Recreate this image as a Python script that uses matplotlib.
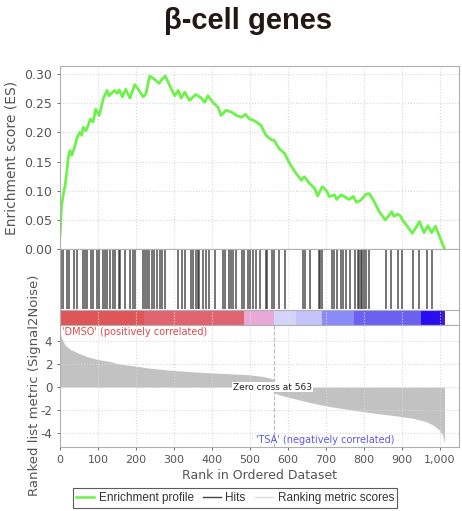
"""GSEA enrichment plot for beta-cell genes (DMSO vs TSA)."""

import matplotlib
matplotlib.use("Agg")
import matplotlib.pyplot as plt
from matplotlib.lines import Line2D
from matplotlib.ticker import FuncFormatter

# running enrichment score
es_rank = [0, 4, 9, 13, 17, 22, 26, 31, 37, 44, 51, 57, 61, 68, 74, 80, 87, 94,
           103, 115, 124, 129, 138, 144, 150, 156, 164, 173, 184, 197, 206, 219,
           226, 236, 249, 261, 267, 277, 289, 302, 311, 319, 328, 341, 357, 372,
           381, 389, 402, 416, 424, 437, 451, 465, 477, 488, 499, 512, 529, 542,
           555, 564, 577, 591, 604, 621, 635, 643, 656, 670, 678, 690, 700, 709,
           722, 728, 740, 748, 761, 772, 780, 792, 805, 814, 827, 840, 856, 864,
           873, 879, 888, 897, 901, 914, 927, 936, 946, 958, 968, 978, 988, 1012]
es_value = [0.022, 0.073, 0.095, 0.107, 0.127, 0.158, 0.169, 0.161, 0.172, 0.189,
            0.200, 0.195, 0.209, 0.203, 0.212, 0.223, 0.218, 0.240, 0.229, 0.260,
            0.272, 0.263, 0.269, 0.272, 0.267, 0.273, 0.261, 0.274, 0.259, 0.282,
            0.274, 0.261, 0.266, 0.297, 0.291, 0.284, 0.290, 0.297, 0.280, 0.263,
            0.272, 0.259, 0.269, 0.255, 0.265, 0.259, 0.252, 0.263, 0.252, 0.243,
            0.229, 0.238, 0.235, 0.229, 0.226, 0.231, 0.223, 0.220, 0.212, 0.195,
            0.188, 0.186, 0.172, 0.164, 0.147, 0.130, 0.118, 0.124, 0.113, 0.104,
            0.091, 0.107, 0.101, 0.090, 0.093, 0.085, 0.093, 0.090, 0.085, 0.090,
            0.080, 0.084, 0.094, 0.095, 0.081, 0.064, 0.050, 0.056, 0.064, 0.056,
            0.060, 0.056, 0.050, 0.039, 0.027, 0.036, 0.047, 0.028, 0.040, 0.028,
            0.039, 0.000]

# positions of gene-set members in the ranked list
hits = [2, 9, 18, 24, 37, 44, 60, 66, 72, 81, 88, 97, 102, 112, 118, 123, 131,
        140, 144, 154, 159, 171, 184, 191, 197, 219, 223, 228, 234, 241, 247,
        254, 262, 268, 276, 310, 322, 328, 345, 350, 357, 363, 367, 376, 383,
        392, 409, 428, 435, 444, 450, 455, 462, 480, 483, 494, 499, 507, 516,
        527, 541, 544, 558, 562, 576, 591, 639, 646, 658, 681, 684, 690, 716,
        722, 728, 740, 744, 753, 763, 777, 783, 787, 792, 796, 801, 805, 812,
        858, 871, 889, 900, 930, 944, 965, 979]

# heat-map band under the hits
band_edges = [0, 220, 483, 564, 622, 690, 773, 951, 1005, 1012]
band_colors = ["#df5659", "#e0646f", "#e8a8d8", "#d4d4fb", "#c4c4fa",
               "#8a8af8", "#6a60f2", "#2a0cf0", "#4a1cc8"]

# ranked list metric (signal-to-noise)
metric_rank = [0, 4, 13, 26, 48, 70, 96, 131, 157, 192, 236, 280, 324, 367, 411,
               455, 499, 534, 562, 564, 586, 621, 665, 709, 753, 796, 840, 884,
               928, 963, 981, 998, 1007, 1011, 1012]
metric_value = [4.9, 4.26, 3.68, 3.30, 2.96, 2.67, 2.43, 2.23, 2.00, 1.86, 1.65,
                1.50, 1.39, 1.30, 1.22, 1.15, 1.07, 0.93, 0.70, -0.52, -0.75,
                -1.04, -1.39, -1.68, -1.91, -2.12, -2.32, -2.49, -2.70, -2.99,
                -3.28, -3.71, -4.14, -4.72, -4.9]
zero_cross = 563

xmax = 1050
grey = "#555555"
frame = "#b0b0b0"

fig = plt.figure(figsize=(4.62, 5.11), dpi=100)
left, width = 60 / 462, 399 / 462
ax_es = fig.add_axes([left, 1 - 249 / 511, width, 183 / 511])
ax_hit = fig.add_axes([left, 1 - 325 / 511, width, 76 / 511])
ax_m = fig.add_axes([left, 1 - 447 / 511, width, 122 / 511])

for ax in (ax_es, ax_hit, ax_m):
    ax.set_xlim(0, xmax)
    for s in ax.spines.values():
        s.set_color(frame)
        s.set_linewidth(0.8)
    ax.tick_params(colors=grey, labelcolor=grey, length=2, width=0.6)

# ES panel
ax_es.plot(es_rank, es_value, color="#6cf24a", lw=2)
ax_es.set_ylim(0, 0.314)
ax_es.set_yticks([0, 0.05, 0.10, 0.15, 0.20, 0.25, 0.30])
ax_es.set_yticklabels([f"{v:.2f}" for v in ax_es.get_yticks()], fontsize=9)
ax_es.set_xticks(range(0, 1001, 100))
ax_es.tick_params(axis="x", labelbottom=False, length=0)
ax_es.grid(True, ls=":", color="#d8d8d8", lw=0.8)
ax_es.set_ylabel("Enrichment score (ES)", fontsize=10, color=grey, labelpad=4)

# hits + colour band
ax_hit.set_ylim(0, 1)
ax_hit.set_yticks([])
ax_hit.set_xticks(range(0, 1001, 100))
ax_hit.tick_params(axis="x", labelbottom=False, length=0)
ax_hit.grid(True, axis="x", ls=":", color="#e0e0e0", lw=0.8)
ax_hit.vlines(hits, 0.21, 0.99, color="#2a2a2a", lw=1.3, alpha=0.7)
for a, b, c in zip(band_edges[:-1], band_edges[1:], band_colors):
    ax_hit.bar(a, 0.2, width=b - a, bottom=0, align="edge", color=c, lw=0)
ax_hit.axhline(0.2, color=frame, lw=0.8)

# ranked metric panel
ax_m.fill_between(metric_rank, metric_value, 0, color="#c2c2c2", lw=0)
ax_m.set_ylim(-5.2, 5.4)
ax_m.set_yticks([4, 2, 0, -2, -4])
ax_m.set_yticklabels(["4", "2", "0", "-2", "-4"], fontsize=8.5)
ax_m.set_xticks(range(0, 1001, 100))
ax_m.xaxis.set_major_formatter(FuncFormatter(lambda v, p: f"{int(v):,}"))
ax_m.tick_params(axis="x", labelsize=8)
ax_m.grid(True, ls=":", color="#d8d8d8", lw=0.8)
ax_m.axvline(zero_cross, color="#bbbbbb", ls="--", lw=0.8)
ax_m.text(559, 0, f"Zero cross at {zero_cross}", fontsize=6.5,
          ha="center", va="center", color="#222222",
          bbox=dict(facecolor="white", edgecolor="none", pad=0.5))
ax_m.text(0.004, 0.985, "'DMSO' (positively correlated)", transform=ax_m.transAxes,
          fontsize=7, color="#e04848", ha="left", va="top")
ax_m.text(698, -4.6, "'TSA' (negatively correlated)", fontsize=7,
          color="#5a5ae6", ha="center", va="center")
ax_m.set_xlabel("Rank in Ordered Dataset", fontsize=9, color=grey, labelpad=3)
fig.text(35 / 462, 1 - 385 / 511, "Ranked list metric (Signal2Noise)",
         rotation=90, fontsize=9.5, color=grey, ha="center", va="center")

fig.suptitle("β-cell genes", x=248 / 462, y=1 - 7 / 511, fontsize=21,
             fontweight="bold", color="#231815", family="Liberation Sans",
             va="top")

handles = [Line2D([], [], color="#6cf24a", lw=1.8),
           Line2D([], [], color="#444444", lw=1.0),
           Line2D([], [], color="#dddddd", lw=1.0)]
leg = fig.legend(handles, ["Enrichment profile", "Hits", "Ranking metric scores"],
                 loc="center", bbox_to_anchor=(235 / 462, 1 - 498 / 511), ncol=3,
                 prop={"family": "Liberation Sans", "size": 8.5},
                 frameon=True, fancybox=False, handlelength=1.5,
                 handletextpad=0.4, columnspacing=0.8, borderpad=0.3)
leg.get_frame().set_edgecolor("#333333")
leg.get_frame().set_linewidth(0.8)
for t in leg.get_texts():
    t.set_color("#333333")

fig.savefig("out.png", dpi=100)
